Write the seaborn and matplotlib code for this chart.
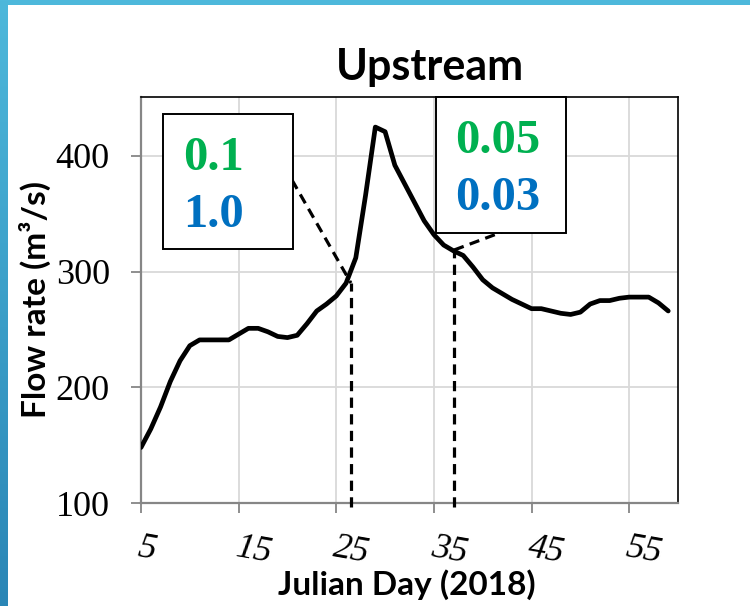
import numpy as np
import pandas as pd
import matplotlib
matplotlib.use("Agg")
import matplotlib.pyplot as plt
import seaborn as sns
from matplotlib.patches import Rectangle
from matplotlib.colors import LinearSegmentedColormap

# ---- data ----
days = list(range(5, 60))
flow = [148, 164, 183, 205, 223, 236, 241, 241, 241, 241,
        246, 251, 251, 248, 244, 243, 245, 255, 266, 272,
        279, 290, 312, 366, 425, 421, 392, 376, 360, 344,
        332, 323, 318, 314, 304, 293, 286, 281, 276, 272,
        268, 268, 266, 264, 263, 265, 272, 275, 275, 277,
        278, 278, 278, 273, 266]
x_ticks = [5, 15, 25, 35, 45, 55]
y_ticks = [100, 200, 300, 400]
marker_days = [26.5, 37.07]
box1_texts = ["0.1", "1.0"]
box2_texts = ["0.05", "0.03"]

df = pd.DataFrame({"day": days, "flow": flow})

sns.set_theme(style="white")
plt.rcParams["font.family"] = ["DejaVu Sans"]

W, H = 750, 606
fig = plt.figure(figsize=(W / 100, H / 100), dpi=100)
fig.patch.set_facecolor("white")

# frame decorations (slide border)
fig.add_artist(Rectangle((0, 1 - 5 / H), 1, 5 / H, transform=fig.transFigure,
                         color="#4DB8DB", lw=0, zorder=0))
gax = fig.add_axes([0, 0, 7 / W, 1])
grad = np.linspace(0, 1, 256).reshape(-1, 1)
cmap = LinearSegmentedColormap.from_list("b", ["#4DB8DB", "#2A86B6"])
gax.imshow(grad, aspect="auto", cmap=cmap, extent=[0, 1, 0, 1], origin="upper")
gax.axis("off")

L, R, T, B = 141, 678, 97, 503
ax = fig.add_axes([L / W, (H - B) / H, (R - L) / W, (B - T) / H])

sns.lineplot(data=df, x="day", y="flow", ax=ax, color="black", linewidth=3.4,
             zorder=5)

ax.set_xlim(5, 60)
ax.set_ylim(100, 451)
ax.set_xticks(x_ticks)
ax.set_yticks(y_ticks)

# grid
for xv in x_ticks[1:]:
    ax.axvline(xv, color="#D9D9D9", lw=1.3, zorder=1)
for yv in y_ticks[1:]:
    ax.axhline(yv, color="#D9D9D9", lw=1.3, zorder=1)

# spines
for s in ["left", "bottom"]:
    ax.spines[s].set_color("#868686")
    ax.spines[s].set_linewidth(1.6)
for s in ["top", "right"]:
    ax.spines[s].set_color("black")
    ax.spines[s].set_linewidth(1.2)
    ax.spines[s].set_visible(True)

serif = ["Liberation Serif", "DejaVu Serif"]
ax.tick_params(axis="both", direction="out", length=7.5, width=1.3,
               color="#868686", bottom=True, left=True)
ax.tick_params(axis="y", pad=15)
ax.tick_params(axis="x", pad=13)
ax.set_yticklabels([str(v) for v in y_ticks], fontsize=26, family=serif,
                   color="black")
ax.set_xticklabels([str(v) for v in x_ticks], fontsize=26, family=serif,
                   color="black", rotation=-10, ha="left",
                   rotation_mode="anchor", style="italic")

sansb = ["Lato", "DejaVu Sans"]
ax.set_xlabel("Julian Day (2018)", fontsize=24, family=sansb,
              fontweight="bold", color="black")
ax.xaxis.label.set_va("center")
ax.xaxis.set_label_coords(0.495, -0.202)
ax.set_ylabel("Flow rate (m³/s)", fontsize=24, family=sansb,
              fontweight="bold", color="black")
ax.yaxis.label.set_va("center")
ax.yaxis.set_label_coords(-0.197, 0.5)

ax.text(0.538, 1.042, "Upstream", transform=ax.transAxes, ha="center",
        va="baseline", fontsize=31, family=sansb, fontweight="bold",
        color="black")

# annotation boxes
def px2d(xp, yp):
    d = 5 + (xp - L) / (R - L) * 55
    v = 100 + (B - yp) / (B - T) * 351
    return d, v

green, blue = "#00B050", "#0070C0"

for (x0, y0, x1, y1) in [(163, 114, 293, 249), (436, 97, 566, 233)]:
    d0, v0 = px2d(x0, y1)
    d1, v1 = px2d(x1, y0)
    ax.add_patch(Rectangle((d0, v0), d1 - d0, v1 - v0, facecolor="white",
                           edgecolor="black", lw=1.4, zorder=8, clip_on=False))

for (xp, yp), txt, c in [((183, 170), box1_texts[0], green),
                         ((183, 227), box1_texts[1], blue),
                         ((455, 153), box2_texts[0], green),
                         ((455, 210), box2_texts[1], blue)]:
    d, v = px2d(xp, yp)
    ax.text(d, v, txt, ha="left", va="baseline", fontsize=35, family=serif,
            fontweight="bold", color=c, zorder=9)

# dashed connector lines
dash = dict(color="black", lw=2.3, linestyle=(0, (3.2, 2.0)), zorder=7,
            clip_on=False)
_, vtop1 = px2d(0, 283)
_, vbot = px2d(0, 507)
ax.plot([marker_days[0], marker_days[0]], [vbot, vtop1], **dash)
d_a, v_a = px2d(292, 180)
ax.plot([d_a, marker_days[0]], [v_a, vtop1], **dash)
_, vtop2 = px2d(0, 250)
ax.plot([marker_days[1], marker_days[1]], [vbot, vtop2], **dash)
d_b, v_b = px2d(502, 232)
ax.plot([marker_days[1], d_b], [vtop2, v_b], **dash)

fig.savefig("out.png", dpi=100)
